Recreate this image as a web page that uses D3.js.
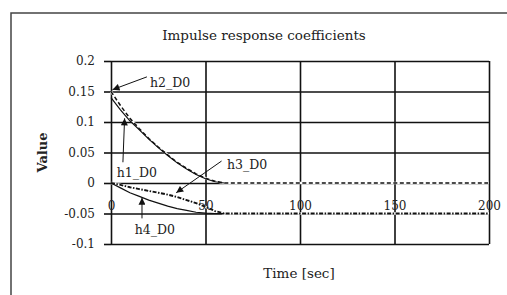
<!DOCTYPE html>
<html>
<head>
<meta charset="utf-8">
<script src="https://cdn.jsdelivr.net/npm/d3@7"></script>
<style>
  body { margin: 0; background: #fff; }
  svg text { font-family: 'DejaVu Serif', 'Liberation Serif', serif; fill: #222; }
  .tick text { font-size: 12px; }
</style>
</head>
<body>
<div id="chart"></div>
<script>
// data
const time = [0, 5, 10, 15, 20, 25, 30, 35, 40, 45, 50, 55, 60, 100, 150, 200]
const h1 = [0.14, 0.12, 0.102, 0.087, 0.072, 0.058, 0.045, 0.033, 0.023, 0.014, 0.007, 0.002, 0, null, null, null]
const h2 = [0.15, 0.127, 0.106, 0.089, 0.073, 0.059, 0.046, 0.034, 0.024, 0.015, 0.008, 0.003, 0, 0, 0, 0]
const h3 = [0, -0.003, -0.007, -0.010, -0.013, -0.016, -0.019, -0.023, -0.028, -0.033, -0.039, -0.046, -0.05, -0.05, -0.05, -0.05]
const h4 = [0, -0.008, -0.016, -0.022, -0.028, -0.033, -0.038, -0.042, -0.045, -0.048, -0.0495, -0.05, -0.05, null, null, null]
const xTicks = [0, 50, 100, 150, 200]
const yTicks = [0.2, 0.15, 0.1, 0.05, 0, -0.05, -0.1]
const yLabels = ['0.2', '0.15', '0.1', '0.05', '0', '-0.05', '-0.1']
// annotation: label, text pos [t, v], arrow from [t, v], arrow to [t, v]
const notes = [
  { name: 'h2_D0', text: [20.6, 0.158], from: [19, 0.174], to: [0.8, 0.153] },
  { name: 'h1_D0', text: [3, 0.010], from: [6.3, 0.034], to: [7.2, 0.106] },
  { name: 'h3_D0', text: [61.4, 0.023], from: [58.5, 0.036], to: [34.5, -0.016] },
  { name: 'h4_D0', text: [12.5, -0.084], from: [16.4, -0.058], to: [16.4, -0.024] }
]

const width = 507
const height = 295
const margin = { left: 111, top: 61, right: 18, bottom: 51 }

const svg = d3.select('#chart').append('svg')
  .attr('width', width)
  .attr('height', height)

svg.append('rect').attr('width', width).attr('height', height).attr('fill', '#fff')

// outer chart border
svg.append('rect')
  .attr('x', 11).attr('y', 13)
  .attr('width', 520).attr('height', 320)
  .attr('fill', 'none')
  .attr('stroke', '#444')
  .attr('stroke-width', 1.5)

const x = d3.scaleLinear().domain([0, 200]).range([margin.left, width - margin.right])
const y = d3.scaleLinear().domain([-0.1, 0.2]).range([height - margin.bottom, margin.top])

const defs = svg.append('defs')
defs.append('marker')
  .attr('id', 'head')
  .attr('viewBox', '0 0 10 10')
  .attr('refX', 10).attr('refY', 5)
  .attr('markerWidth', 9).attr('markerHeight', 7)
  .attr('markerUnits', 'userSpaceOnUse')
  .attr('orient', 'auto')
  .append('path')
  .attr('d', 'M0,0L10,5L0,10Z')
  .attr('fill', '#111')

// grid
svg.append('g')
  .attr('transform', `translate(${margin.left},0)`)
  .call(d3.axisLeft(y).tickValues(yTicks).tickSize(-(x.range()[1] - margin.left)).tickFormat(''))
  .call(g => g.select('.domain').remove())
  .call(g => g.selectAll('.tick line').attr('stroke', '#111').attr('stroke-width', 1.6))

svg.append('g')
  .attr('transform', `translate(0,${y(-0.1)})`)
  .call(d3.axisBottom(x).tickValues(xTicks).tickSize(-(y(-0.1) - y(0.2))).tickFormat(''))
  .call(g => g.select('.domain').remove())
  .call(g => g.selectAll('.tick line').attr('stroke', '#111').attr('stroke-width', 1.6))

// y axis with short outer ticks and labels
svg.append('g')
  .attr('transform', `translate(${margin.left},0)`)
  .call(d3.axisLeft(y).tickValues(yTicks).tickSize(7).tickPadding(9)
    .tickFormat((d, i) => yLabels[i]))
  .call(g => g.select('.domain').remove())
  .call(g => g.selectAll('.tick line').attr('stroke', '#111').attr('stroke-width', 1.6))

// series
const pts = vals => time.map((t, i) => [t, vals[i]])
const line = d3.line()
  .defined(d => d[1] !== null)
  .x(d => x(d[0]))
  .y(d => y(d[1]))

const series = [
  { vals: h1, dash: null, w: 1.2 },
  { vals: h2, dash: '4,2.5', w: 1.5 },
  { vals: h3, dash: '4,1.5,1.5,1.5', w: 1.9 },
  { vals: h4, dash: null, w: 1.2 }
]

series.forEach(s => {
  if (s.dash) {
    svg.append('path')
      .attr('d', line(pts(s.vals)))
      .attr('fill', 'none')
      .attr('stroke', '#fff')
      .attr('stroke-width', 2.4)
  }
})
series.forEach(s => {
  svg.append('path')
    .attr('d', line(pts(s.vals)))
    .attr('fill', 'none')
    .attr('stroke', '#111')
    .attr('stroke-width', s.w)
    .attr('stroke-dasharray', s.dash)
})

// x tick labels, drawn over the lines like in the original
svg.append('g')
  .attr('transform', `translate(0,${y(0)})`)
  .call(d3.axisBottom(x).tickValues(xTicks).tickSize(0).tickPadding(18))
  .call(g => g.select('.domain').remove())

// annotations
notes.forEach(n => {
  svg.append('line')
    .attr('x1', x(n.from[0])).attr('y1', y(n.from[1]))
    .attr('x2', x(n.to[0])).attr('y2', y(n.to[1]))
    .attr('stroke', '#111')
    .attr('stroke-width', 1)
    .attr('marker-end', 'url(#head)')
  svg.append('text')
    .attr('x', x(n.text[0]))
    .attr('y', y(n.text[1]))
    .attr('font-size', 12.5)
    .text(n.name)
})

// titles
svg.append('text')
  .attr('x', 264).attr('y', 40)
  .attr('text-anchor', 'middle')
  .attr('font-size', 13.5)
  .text('Impulse response coefficients')

svg.append('text')
  .attr('transform', `translate(47,${(y(0.2) + y(-0.1)) / 2}) rotate(-90)`)
  .attr('text-anchor', 'middle')
  .attr('font-size', 13)
  .attr('font-weight', 'bold')
  .text('Value')

svg.append('text')
  .attr('x', 299).attr('y', 278)
  .attr('text-anchor', 'middle')
  .attr('font-size', 13.5)
  .text('Time [sec]')
</script>
</body>
</html>
